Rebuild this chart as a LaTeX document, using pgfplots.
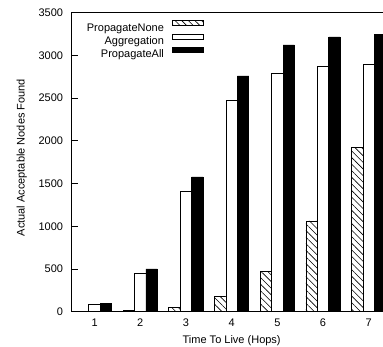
\documentclass[border=0pt]{standalone}
\usepackage{fontspec}
\setmainfont{Liberation Sans}
\usepackage{pgfplots}
\pgfplotsset{compat=1.18}
\usetikzlibrary{patterns.meta}

\newcommand{\chartfont}{\fontsize{8.25}{9.9}\selectfont}

\pgfplotsset{
  boxkey/.style={legend image code/.code={%
    \draw[##1, line width=0.6pt] (0pt,1.1pt) rectangle (23.7pt,4.8pt);}},
}

\begin{document}
\begin{tikzpicture}
\path[use as bounding box] (-53.8pt,-26.5pt) rectangle (233.45pt,233.75pt);
\clip (-53.8pt,-26.5pt) rectangle (233.45pt,233.75pt);
\begin{axis}[
  scale only axis, width=239.9pt, height=224.25pt,
  xmin=0.5, xmax=7.5, ymin=0, ymax=3500,
  xtick={1,2,3,4,5,6,7}, ytick={0,500,...,3500},
  tick align=inside, xtick pos=bottom, ytick pos=left,
  major tick length=4.5pt,
  axis line style={line width=0.75pt},
  tick style={black, line width=0.5pt},
  /pgf/number format/assume math mode=true,
  /pgf/number format/set thousands separator={},
  scaled y ticks=false,
  tick label style={font=\chartfont},
  xticklabel style={anchor=base, yshift=-11.5pt},
  yticklabel style={xshift=-3pt},
  xlabel={Time To Live (Hops)},
  ylabel={Actual Acceptable Nodes Found},
  label style={font=\chartfont},
  xlabel style={at={(axis description cs:0.5,0)}, anchor=base, yshift=-23.5pt},
  ylabel style={at={(axis description cs:-0.156,0.515)}, anchor=center},
  legend plot pos=right,
  legend cell align=right,
  legend style={draw=none, fill=none, inner sep=0pt,
    at={(axis description cs:0.4146,0.9753)}, anchor=north east,
    row sep=2pt, /tikz/column sep=5.8pt,
    nodes={inner sep=0pt, text height=5.9pt, text depth=0pt, font=\chartfont}},
]
% PropagateNone
\addplot[ybar, bar width=0.25, bar shift=-0.25, draw=black, line width=0.6pt,
  pattern={Lines[angle=-45,distance=3.5pt,line width=0.45pt]}, boxkey]
  coordinates {(1,3) (2,15) (3,50) (4,176) (5,476) (6,1062) (7,1920)};
\addlegendentry{PropagateNone}
% Aggregation
\addplot[ybar, bar width=0.25, bar shift=0, draw=black, line width=0.6pt,
  fill=white, boxkey]
  coordinates {(1,87) (2,450) (3,1413) (4,2474) (5,2791) (6,2872) (7,2900)};
\addlegendentry{Aggregation}
% PropagateAll
\addplot[ybar, bar width=0.25, bar shift=0.25, draw=black, line width=0.6pt,
  fill=black, boxkey]
  coordinates {(1,94) (2,500) (3,1577) (4,2759) (5,3122) (6,3216) (7,3243)};
\addlegendentry{PropagateAll}
\end{axis}
\end{tikzpicture}
\end{document}
